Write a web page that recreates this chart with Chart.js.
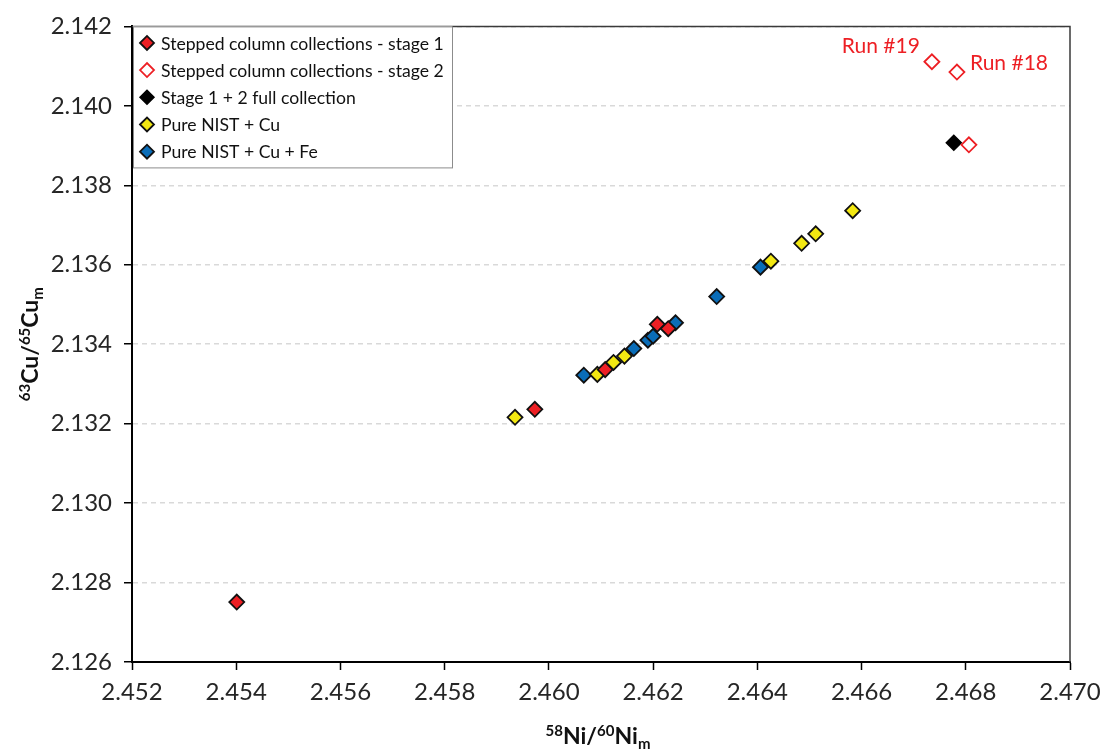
<!DOCTYPE html>
<html>
<head>
<meta charset="utf-8">
<script src="https://cdn.jsdelivr.net/npm/chart.js@4.4.1/dist/chart.umd.min.js"></script>
<style>
  html, body { margin: 0; padding: 0; background: #fff; }
</style>
</head>
<body>
<canvas id="myChart" width="1115" height="751"></canvas>
<script>
///////////// Data
const seriesNames = [
  'Stepped column collections - stage 1',
  'Stepped column collections - stage 2',
  'Stage 1 + 2 full collection',
  'Pure NIST + Cu',
  'Pure NIST + Cu + Fe'
];

const stage1X = [2.45401, 2.45973, 2.46108, 2.46208, 2.46229];
const stage1Y = [2.12751, 2.13236, 2.13336, 2.13450, 2.13439];

const stage2X = [2.46735, 2.46783, 2.46806];
const stage2Y = [2.14111, 2.14085, 2.13902];
const stage2Labels = ['Run #19', 'Run #18', ''];

const fullX = [2.46777];
const fullY = [2.13907];

const cuX = [2.45935, 2.46093, 2.46124, 2.46145, 2.46426, 2.46485, 2.46512, 2.46583];
const cuY = [2.13216, 2.13324, 2.13354, 2.13370, 2.13609, 2.13654, 2.13678, 2.13736];

const feX = [2.46067, 2.46163, 2.46190, 2.46200, 2.46243, 2.46322, 2.46406];
const feY = [2.13322, 2.13389, 2.13410, 2.13420, 2.13454, 2.13520, 2.13594];

const xTickValues = [2.452, 2.454, 2.456, 2.458, 2.460, 2.462, 2.464, 2.466, 2.468, 2.470];
const yTickValues = [2.126, 2.128, 2.130, 2.132, 2.134, 2.136, 2.138, 2.140, 2.142];

const RED = '#ED1F24';
const YELLOW = '#F3E812';
const BLUE = '#0A6DB8';
const FONT = 'Lato, "Open Sans", sans-serif';

Chart.defaults.font.family = FONT;

function toPoints(xs, ys) {
  const pts = [];
  for (let i = 0; i < xs.length; i++) {
    pts.push({ x: xs[i], y: ys[i] });
  }
  return pts;
}

function diamond(ctx, x, y, r, fill, stroke, lw) {
  ctx.beginPath();
  ctx.moveTo(x - r, y);
  ctx.lineTo(x, y - r);
  ctx.lineTo(x + r, y);
  ctx.lineTo(x, y + r);
  ctx.closePath();
  ctx.fillStyle = fill;
  ctx.fill();
  ctx.lineWidth = lw;
  ctx.strokeStyle = stroke;
  ctx.stroke();
}

// text with superscript / subscript parts, centred on x
function richText(ctx, parts, x, y) {
  const big = 'bold 23px ' + FONT;
  const small = 'bold 15px ' + FONT;
  let total = 0;
  parts.forEach(p => {
    ctx.font = p[1] === 'n' ? big : small;
    total += ctx.measureText(p[0]).width;
  });
  let cx = x - total / 2;
  ctx.textAlign = 'left';
  ctx.textBaseline = 'alphabetic';
  parts.forEach(p => {
    ctx.font = p[1] === 'n' ? big : small;
    let dy = 0;
    if (p[1] === 'sup') dy = -8;
    if (p[1] === 'sub') dy = 5;
    ctx.fillText(p[0], cx, y + dy);
    cx += ctx.measureText(p[0]).width;
  });
}

const framePlugin = {
  id: 'frame',
  beforeDatasetsDraw(chart) {
    const { ctx, chartArea: a } = chart;
    ctx.save();
    ctx.strokeStyle = '#3a3a3a';
    ctx.lineWidth = 1.5;
    ctx.beginPath();
    ctx.moveTo(a.left, a.top);
    ctx.lineTo(a.right, a.top);
    ctx.lineTo(a.right, a.bottom);
    ctx.stroke();
    ctx.restore();
  }
};

const extrasPlugin = {
  id: 'extras',
  afterDraw(chart) {
    const { ctx, chartArea: a } = chart;
    ctx.save();

    // legend box
    const lx = a.left + 1, ly = a.top, lw = 319, lh = 141;
    ctx.fillStyle = '#fff';
    ctx.fillRect(lx, ly, lw, lh);
    ctx.strokeStyle = '#8c8c8c';
    ctx.lineWidth = 1;
    ctx.strokeRect(lx + 0.5, ly + 0.5, lw, lh);
    chart.data.datasets.forEach((ds, i) => {
      const cy = ly + 16.5 + i * 27.2;
      diamond(ctx, lx + 14, cy, 7, ds.backgroundColor, ds.borderColor, ds.borderWidth);
      ctx.fillStyle = '#111';
      ctx.font = '17.6px ' + FONT;
      ctx.textAlign = 'left';
      ctx.textBaseline = 'middle';
      ctx.fillText(ds.label, lx + 28, cy + 1);
    });

    // run labels next to the stage 2 points
    const meta = chart.getDatasetMeta(1);
    ctx.fillStyle = RED;
    ctx.font = '21px ' + FONT;
    ctx.textBaseline = 'alphabetic';
    stage2Labels.forEach((t, i) => {
      if (!t) return;
      const el = meta.data[i];
      if (i === 0) {
        ctx.textAlign = 'right';
        ctx.fillText(t, el.x - 12, el.y - 9);
      } else {
        ctx.textAlign = 'left';
        ctx.fillText(t, el.x + 13, el.y - 2);
      }
    });

    // axis titles
    ctx.fillStyle = '#111';
    richText(ctx, [['58', 'sup'], ['Ni/', 'n'], ['60', 'sup'], ['Ni', 'n'], ['m', 'sub']],
      (a.left + a.right) / 2 - 3, 744);
    ctx.translate(38, (a.top + a.bottom) / 2);
    ctx.rotate(-Math.PI / 2);
    richText(ctx, [['63', 'sup'], ['Cu/', 'n'], ['65', 'sup'], ['Cu', 'n'], ['m', 'sub']], 0, 0);
    ctx.restore();
  }
};

const myChart = document.getElementById('myChart');

new Chart(myChart, {
  type: 'scatter',
  data: {
    datasets: [
      { label: seriesNames[0], data: toPoints(stage1X, stage1Y), backgroundColor: RED, borderColor: '#111', borderWidth: 1.8 },
      { label: seriesNames[1], data: toPoints(stage2X, stage2Y), backgroundColor: '#fff', borderColor: RED, borderWidth: 1.8 },
      { label: seriesNames[2], data: toPoints(fullX, fullY), backgroundColor: '#000', borderColor: '#000', borderWidth: 1.5 },
      { label: seriesNames[3], data: toPoints(cuX, cuY), backgroundColor: YELLOW, borderColor: '#111', borderWidth: 1.8 },
      { label: seriesNames[4], data: toPoints(feX, feY), backgroundColor: BLUE, borderColor: '#111', borderWidth: 1.8 }
    ]
  },
  options: {
    responsive: false,
    animation: false,
    events: [],
    layout: { padding: { top: 25, right: 45, left: 0, bottom: 0 } },
    elements: { point: { pointStyle: 'rectRot', radius: 7.5 } },
    plugins: {
      legend: { display: false },
      tooltip: { enabled: false }
    },
    scales: {
      x: {
        type: 'linear',
        min: 2.452,
        max: 2.470,
        afterBuildTicks: s => { s.ticks = xTickValues.map(v => ({ value: v })); },
        afterFit: s => { s.height = 89; },
        ticks: {
          callback: v => Number(v).toFixed(3),
          font: { size: 24 },
          color: '#262626',
          padding: 8,
          maxRotation: 0,
          autoSkip: false
        },
        grid: { drawOnChartArea: false, tickLength: 8, tickWidth: 1.5, tickColor: '#000' },
        border: { color: '#000', width: 2 }
      },
      y: {
        type: 'linear',
        min: 2.126,
        max: 2.142,
        afterBuildTicks: s => { s.ticks = yTickValues.map(v => ({ value: v })); },
        afterFit: s => { s.width = 132; },
        ticks: {
          callback: v => Number(v).toFixed(3),
          font: { size: 24 },
          color: '#262626',
          padding: 12,
          autoSkip: false
        },
        grid: { color: '#d9d9d9', lineWidth: 1.5, tickLength: 8, tickWidth: 1.5, tickColor: '#000' },
        border: { color: '#000', width: 2, dash: [5, 4] }
      }
    }
  },
  plugins: [framePlugin, extrasPlugin]
});
</script>
</body>
</html>
